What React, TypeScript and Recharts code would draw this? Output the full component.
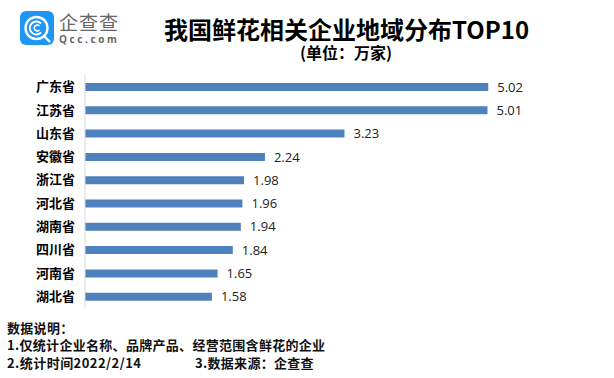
import React from "react";
import { BarChart, Bar, XAxis, YAxis, LabelList } from "recharts";

const provinces = ["广东省", "江苏省", "山东省", "安徽省", "浙江省", "河北省", "湖南省", "四川省", "河南省", "湖北省"];
const values = [5.02, 5.01, 3.23, 2.24, 1.98, 1.96, 1.94, 1.84, 1.65, 1.58];
const rows = provinces.map((name, i) => ({ name, value: values[i] }));

const titleText = "我国鲜花相关企业地域分布TOP10";
const unitText = "(单位：万家)";
const noteLines = ["数据说明：", "1.仅统计企业名称、品牌产品、经营范围含鲜花的企业"];
const noteTime = "2.统计时间2022/2/14";
const noteSource = "3.数据来源：企查查";

const cjk = '"Noto Sans CJK SC", "Noto Sans", sans-serif';
const latin = '"Open Sans", "Noto Sans CJK SC", sans-serif';

const abs = (left: number, top: number, extra: React.CSSProperties): React.CSSProperties => ({
  position: "absolute", left, top, whiteSpace: "nowrap", lineHeight: 1, fontFamily: cjk, ...extra,
});

const Logo = () => (
  <svg style={{ position: "absolute", left: 20, top: 11 }} width={34} height={34} viewBox="0 0 34 34">
    <rect x={0} y={0} width={34} height={34} rx={6} fill="#1E96F5" />
    <circle cx={16.5} cy={17} r={11} fill="none" stroke="#fff" strokeWidth={2.4} />
    <path d="M21 12.5 A6.5 6.5 0 1 0 21 21.5" fill="none" stroke="#fff" strokeWidth={2} />
    <path d="M19.5 15 A3 3 0 1 0 19.5 19" fill="none" stroke="#fff" strokeWidth={1.6} />
    <path d="M24 25 L30 31" stroke="#fff" strokeWidth={2.4} />
  </svg>
);

export default function App() {
  return (
    <div style={{ position: "absolute", left: 0, top: 0, width: 614, height: 378, background: "#fff", overflow: "hidden" }}>
      <Logo />
      <div style={abs(59, 12, { fontSize: 19, color: "#666", letterSpacing: 1 })}>企查查</div>
      <div style={abs(59, 34, { fontSize: 10, fontWeight: 700, color: "#666", letterSpacing: 2.6, fontFamily: latin })}>Qcc.com</div>
      <div style={abs(164, 17, { fontSize: 24, fontWeight: 700, color: "#000" })}>{titleText}</div>
      <div style={abs(300, 44, { fontSize: 16, fontWeight: 700, color: "#000" })}>{unitText}</div>
      <div style={{ position: "absolute", left: 0, top: 0 }}>
        <BarChart width={614} height={378} data={rows} layout="vertical" margin={{ top: 75, right: 47, bottom: 70, left: 0 }}>
          <XAxis type="number" domain={[0, 6]} hide />
          <YAxis
            type="category"
            dataKey="name"
            width={85}
            interval={0}
            axisLine={{ stroke: "#d9d9d9" }}
            tickLine={false}
            tickMargin={4}
            tick={{ fontSize: 13, fontWeight: 700, fill: "#000", fontFamily: cjk }}
          />
          <Bar dataKey="value" fill="#4F81BD" barSize={8} isAnimationActive={false}>
            <LabelList dataKey="value" position="right" offset={9} formatter={(v: number) => v.toFixed(2)} style={{ fontSize: 13, fill: "#222", fontFamily: latin }} />
          </Bar>
        </BarChart>
      </div>
      <div style={abs(7, 321, { fontSize: 13, fontWeight: 700, color: "#111", letterSpacing: 0.3 })}>{noteLines[0]}</div>
      <div style={abs(7, 338, { fontSize: 13, fontWeight: 700, color: "#111", letterSpacing: 0.3 })}>{noteLines[1]}</div>
      <div style={abs(7, 356, { fontSize: 13, fontWeight: 700, color: "#111", letterSpacing: 0.45 })}>{noteTime}</div>
      <div style={abs(195, 356, { fontSize: 13, fontWeight: 700, color: "#111", letterSpacing: 0.3 })}>{noteSource}</div>
    </div>
  );
}
